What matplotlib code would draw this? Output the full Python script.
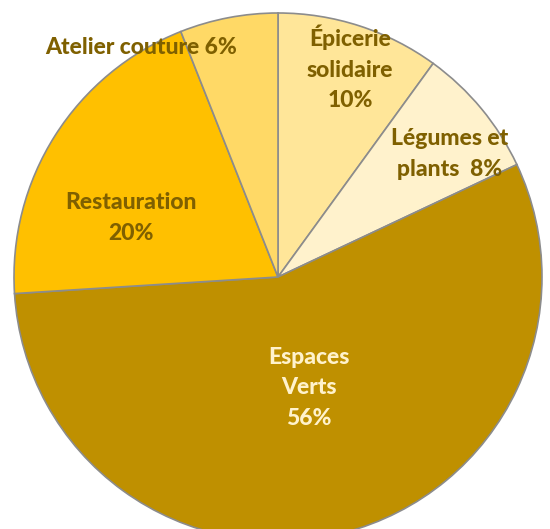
import matplotlib.pyplot as plt

# data
labels = ["Épicerie\nsolidaire\n10%", "Légumes et\nplants  8%", "Espaces\nVerts\n56%",
          "Restauration\n20%", "Atelier couture 6%"]
values = [10, 8, 56, 20, 6]
colors = ["#FFE699", "#FFF2CC", "#BF9000", "#FFC000", "#FFD966"]
text_colors = ["#7F6000", "#7F6000", "#FFF2CC", "#7F6000", "#7F6000"]
# label centres in pixels (x, y from top)
label_pos = [(350, 68), (450, 154), (309, 388), (131, 218), (141, 48)]

W, H = 550, 529
fig = plt.figure(figsize=(W / 100, H / 100), dpi=100)
ax = fig.add_axes([0, 0, 1, 1])

ax.pie(values, colors=colors, startangle=90, counterclock=False,
       center=(278, H - 277), radius=264, frame=True,
       wedgeprops=dict(edgecolor="#8C8C8C", linewidth=1.2))
ax.set_xlim(0, W)
ax.set_ylim(0, H)
ax.set_aspect("equal")
ax.axis("off")

for lab, (x, y), c in zip(labels, label_pos, text_colors):
    ax.text(x, H - y, lab, ha="center", va="center", color=c, fontsize=16.5,
            fontweight="black", family="Lato", linespacing=1.55)

fig.savefig("out.png", dpi=100)
